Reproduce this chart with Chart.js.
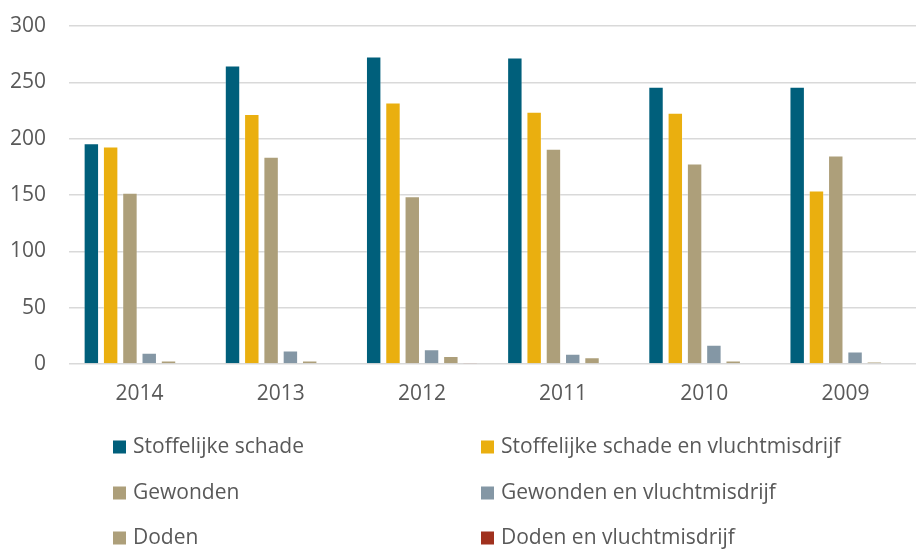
<!DOCTYPE html>
<html>
<head>
<meta charset="utf-8">
<script src="https://cdn.jsdelivr.net/npm/chart.js@4/dist/chart.umd.min.js"></script>
<style>
html,body{margin:0;padding:0;background:#fff;}
#wrap{width:916px;height:549px;position:relative;}
</style>
</head>
<body>
<div id="wrap"><canvas id="c" width="916" height="549"></canvas></div>
<script>
const categories = ['2014', '2013', '2012', '2011', '2010', '2009'];
const seriesNames = ['Stoffelijke schade', 'Stoffelijke schade en vluchtmisdrijf', 'Gewonden', 'Gewonden en vluchtmisdrijf', 'Doden', 'Doden en vluchtmisdrijf'];
const stoffelijkeSchade = [196, 265, 273, 272, 246, 246];
const stoffelijkeSchadeVlucht = [193, 222, 232, 224, 223, 154];
const gewonden = [152, 184, 149, 191, 178, 185];
const gewondenVlucht = [10, 12, 13, 9, 17, 11];
const doden = [3, 3, 7, 6, 3, 2];
const dodenVlucht = [0, 0, 1, 0, 0, 0];
const yTicks = [0, 50, 100, 150, 200, 250, 300];

const colors = ['#005F7B', '#EAAF0F', '#AD9F7A', '#8497A5', '#AD9F7A', '#A0311E'];
const values = [stoffelijkeSchade, stoffelijkeSchadeVlucht, gewonden, gewondenVlucht, doden, dodenVlucht];
const FONT = '"Open Sans", sans-serif';
const TEXT = '#595959';
const FS = 21;

const legendPlugin = {
  id: 'gridLegend',
  afterDraw(chart) {
    const ctx = chart.ctx;
    const cols = [113, 481];
    const rows = [447, 493, 538];
    ctx.save();
    ctx.font = FS + 'px ' + FONT;
    ctx.textBaseline = 'middle';
    ctx.textAlign = 'left';
    chart.data.datasets.forEach((ds, i) => {
      const x = cols[i % 2];
      const y = rows[Math.floor(i / 2)];
      ctx.fillStyle = ds.backgroundColor;
      ctx.fillRect(x, y - 6.5, 13, 13);
      ctx.fillStyle = TEXT;
      ctx.fillText(ds.label, x + 20, y);
    });
    ctx.restore();
  }
};

new Chart(document.getElementById('c'), {
  type: 'bar',
  data: {
    labels: categories,
    datasets: seriesNames.map((name, i) => ({
      label: name,
      data: values[i],
      backgroundColor: colors[i],
      borderColor: 'rgba(255,255,255,0.3)',
      borderWidth: 1,
      categoryPercentage: 0.82,
      barPercentage: 0.8
    }))
  },
  options: {
    responsive: false,
    animation: false,
    devicePixelRatio: 1,
    layout: { padding: { top: 26, right: 0, left: 0, bottom: 0 } },
    plugins: {
      legend: { display: false },
      tooltip: { enabled: false }
    },
    scales: {
      x: {
        grid: { display: false, drawTicks: false },
        border: { display: false },
        ticks: { color: TEXT, font: { family: FONT, size: FS }, padding: 17 },
        afterFit(scale) { scale.height = 185; }
      },
      y: {
        min: 0, max: 300,
        afterBuildTicks(scale) { scale.ticks = yTicks.map(v => ({ value: v })); },
        grid: { color: '#D9D9D9', lineWidth: 1.5, drawTicks: false },
        border: { display: false },
        ticks: { color: TEXT, font: { family: FONT, size: FS, lineHeight: 0.2 }, padding: 23 },
        afterFit(scale) { scale.width = 69; }
      }
    }
  },
  plugins: [legendPlugin]
});
</script>
</body>
</html>
